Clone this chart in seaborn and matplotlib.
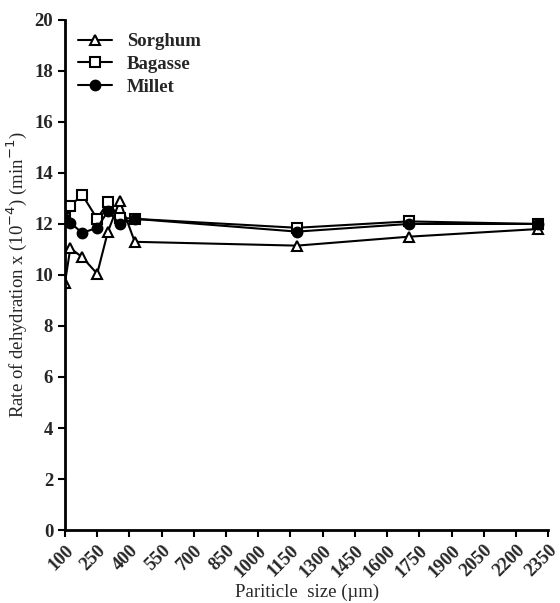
import matplotlib
matplotlib.use("Agg")
import matplotlib.pyplot as plt
import seaborn as sns
import pandas as pd

sizes = [100, 125, 180, 250, 300, 355, 425, 1180, 1700, 2300]
sorghum = [9.7, 11.05, 10.7, 10.05, 11.7, 12.9, 11.3, 11.15, 11.5, 11.8]
bagasse = [12.25, 12.7, 13.15, 12.2, 12.85, 12.25, 12.2, 11.85, 12.1, 12.0]
millet = [12.2, 12.05, 11.65, 11.85, 12.5, 12.0, 12.2, 11.7, 12.0, 12.0]
xticks = list(range(100, 2351, 150))
yticks = list(range(0, 21, 2))

sns.set_style("ticks")
plt.rcParams['font.family'] = ['Liberation Serif', 'DejaVu Serif']

fig = plt.figure(figsize=(5.6, 6.03), dpi=100)
ax = fig.add_axes([0.116, 0.121, 0.863, 0.846])

series = [("Sorghum", sorghum, "^", "white"),
          ("Bagasse", bagasse, "s", "white"),
          ("Millet", millet, "o", "black")]
for name, vals, mk, fc in series:
    df = pd.DataFrame({"x": sizes, "y": vals})
    sns.lineplot(data=df, x="x", y="y", ax=ax, color="black", lw=1.5,
                 marker=mk, markersize=7, markerfacecolor=fc,
                 markeredgecolor="black", markeredgewidth=1.5, label=name)

ax.set_xlim(100, 2350)
ax.set_ylim(0, 20)
ax.set_xticks(xticks)
ax.set_yticks(yticks)
ax.set_xticklabels([str(t) for t in xticks], rotation=45, ha="right",
                   rotation_mode="anchor", fontsize=13.5, fontweight="bold")
ax.set_yticklabels([str(t) for t in yticks], fontsize=13.5, fontweight="bold")
ax.tick_params(direction="out", length=5, width=1.5, color="black")
for s in ["left", "bottom"]:
    ax.spines[s].set_linewidth(2)
    ax.spines[s].set_color("black")
sns.despine(ax=ax)
ax.set_xlabel("Pariticle  size (µm)", fontsize=13.5, labelpad=2)
ax.set_ylabel("Rate of dehydration x (10$^{-4}$) (min$^{-1}$)", fontsize=13.5, labelpad=4)
leg = ax.legend(loc="upper left", frameon=False, handlelength=1.8,
                borderaxespad=0.3, labelspacing=0.3, prop={"weight": "bold", "size": 13.5})
fig.savefig("out.png", dpi=100)
